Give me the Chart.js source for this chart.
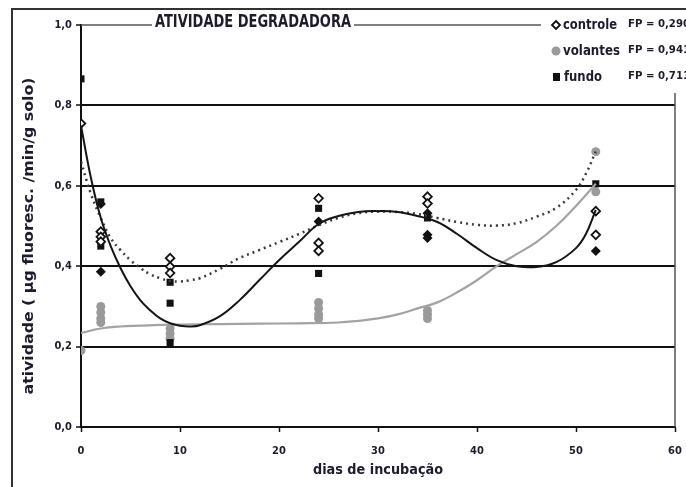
<!DOCTYPE html>
<html>
<head>
<meta charset="utf-8">
<script src="https://cdn.jsdelivr.net/npm/chart.js@4"></script>
<style>
  html, body { margin: 0; padding: 0; background: #fff; }
  #wrap { width: 686px; height: 487px; }
</style>
</head>
<body>
<div id="wrap"><canvas id="chart" width="686" height="487"></canvas></div>
<script>
var FONT = '"Liberation Sans Narrow", "DejaVu Sans Condensed", "Arial Narrow", Arial, sans-serif';
var INK = "#1c1c2e";

// controle (open diamonds)
var controleDays = [0, 2, 2, 2, 9, 9, 9, 24, 24, 24, 35, 35, 52, 52];
var controleVals = [0.755, 0.486, 0.473, 0.461, 0.42, 0.399, 0.383, 0.569, 0.458, 0.438, 0.573, 0.556, 0.537, 0.478];

// volantes (grey circles)
var volantesDays = [0, 2, 2, 2, 2, 9, 9, 9, 24, 24, 24, 24, 35, 35, 35, 52, 52];
var volantesVals = [0.19, 0.30, 0.285, 0.27, 0.26, 0.245, 0.232, 0.22, 0.31, 0.295, 0.28, 0.27, 0.29, 0.28, 0.27, 0.685, 0.585];

// fundo (black squares)
var fundoDays = [0, 2, 2, 9, 9, 9, 24, 24, 35, 52];
var fundoVals = [0.866, 0.56, 0.45, 0.36, 0.308, 0.21, 0.544, 0.382, 0.52, 0.605];

// filled black markers without a legend entry
var extraDays = [2, 2, 24, 35, 35, 35, 52];
var extraVals = [0.555, 0.386, 0.511, 0.532, 0.478, 0.47, 0.438];

// fitted curves
var solidDays = [0, 1, 2, 3, 4, 5, 6, 7, 8, 9, 10, 11, 12, 14, 16, 18, 20, 22, 24, 26, 28, 30, 32, 34, 36, 38, 40, 42, 44, 46, 48, 50, 51, 52];
var solidVals = [0.75, 0.62, 0.52, 0.45, 0.395, 0.35, 0.315, 0.29, 0.27, 0.258, 0.252, 0.25, 0.253, 0.275, 0.315, 0.365, 0.415, 0.46, 0.505, 0.525, 0.535, 0.537, 0.535, 0.525, 0.51, 0.48, 0.445, 0.415, 0.40, 0.398, 0.41, 0.445, 0.48, 0.54];

var dottedDays = [0, 1, 2, 3, 4, 5, 6, 7, 8, 9, 10, 11, 12, 14, 16, 18, 20, 22, 24, 26, 28, 30, 32, 34, 36, 38, 40, 42, 44, 46, 48, 50, 51, 52];
var dottedVals = [0.66, 0.58, 0.52, 0.47, 0.44, 0.415, 0.395, 0.38, 0.37, 0.363, 0.362, 0.365, 0.37, 0.393, 0.42, 0.44, 0.46, 0.48, 0.502, 0.52, 0.532, 0.536, 0.535, 0.53, 0.52, 0.51, 0.503, 0.501, 0.507, 0.523, 0.545, 0.59, 0.63, 0.685];

var greyDays = [0, 2, 4, 6, 8, 10, 14, 18, 22, 26, 28, 30, 32, 34, 36, 38, 40, 42, 44, 46, 48, 50, 52];
var greyVals = [0.234, 0.245, 0.25, 0.252, 0.254, 0.255, 0.256, 0.257, 0.258, 0.26, 0.264, 0.27, 0.28, 0.295, 0.31, 0.335, 0.365, 0.40, 0.43, 0.46, 0.50, 0.55, 0.605];

var legendItems = [
  { label: "controle", fp: "FP = 0,290" },
  { label: "volantes", fp: "FP = 0,941" },
  { label: "fundo", fp: "FP = 0,711" },
];
var chartTitle = "ATIVIDADE DEGRADADORA";
var xTitle = "dias de incubação";
var yTitle = "atividade ( µg fluoresc. /min/g solo)";

function pairs(xs, ys) {
  return xs.map(function (x, i) {
    return { x: x, y: ys[i] };
  });
}

function curve(label, xs, ys, color, width, dash) {
  return {
    label: label,
    data: pairs(xs, ys),
    showLine: true,
    borderColor: color,
    borderWidth: width,
    borderDash: dash || [],
    pointRadius: 0,
    tension: 0.4,
    fill: false,
  };
}

function fitText(ctx, text, x, y, width, size, align) {
  ctx.font = "bold " + size + "px " + FONT;
  var k = width / ctx.measureText(text).width;
  ctx.save();
  ctx.translate(x, y);
  ctx.scale(k, 1);
  ctx.textAlign = align || "left";
  ctx.textBaseline = "middle";
  ctx.fillText(text, 0, 0);
  ctx.restore();
}

var decor = {
  id: "decor",
  afterDraw: function (chart) {
    var ctx = chart.ctx;
    var a = chart.chartArea;
    ctx.save();

    // outer frame (left and top)
    ctx.strokeStyle = "#333";
    ctx.lineWidth = 2;
    ctx.beginPath();
    ctx.moveTo(12, 487);
    ctx.lineTo(12, 9);
    ctx.lineTo(686, 9);
    ctx.stroke();

    // top border, broken by the title, and right border below the legend
    ctx.strokeStyle = "#555";
    ctx.lineWidth = 1.5;
    ctx.beginPath();
    ctx.moveTo(a.left, a.top);
    ctx.lineTo(152, a.top);
    ctx.moveTo(354, a.top);
    ctx.lineTo(541, a.top);
    ctx.moveTo(a.right, 93);
    ctx.lineTo(a.right, a.bottom);
    ctx.stroke();

    ctx.fillStyle = INK;
    fitText(ctx, chartTitle, 155, 23, 196, 17);

    // legend
    var rows = [25, 51, 77];
    ctx.lineWidth = 1.8;
    ctx.strokeStyle = "#111";
    ctx.fillStyle = "#fff";
    ctx.beginPath();
    ctx.moveTo(556, rows[0] - 4);
    ctx.lineTo(560, rows[0]);
    ctx.lineTo(556, rows[0] + 4);
    ctx.lineTo(552, rows[0]);
    ctx.closePath();
    ctx.fill();
    ctx.stroke();
    ctx.fillStyle = "#9a9a9a";
    ctx.beginPath();
    ctx.arc(556, rows[1], 4.5, 0, Math.PI * 2);
    ctx.fill();
    ctx.fillStyle = "#111";
    ctx.fillRect(553, rows[2] - 4, 7, 8);

    ctx.fillStyle = INK;
    fitText(ctx, legendItems[0].label, 563, rows[0], 54, 14);
    fitText(ctx, legendItems[1].label, 563, rows[1], 57, 14);
    fitText(ctx, legendItems[2].label, 564, rows[2], 38, 14);
    legendItems.forEach(function (item, i) {
      fitText(ctx, item.fp, 628, rows[i] - 1, 62, 11);
    });

    // axis titles
    fitText(ctx, xTitle, 378, 470, 130, 14, "center");
    ctx.save();
    ctx.translate(29, 236);
    ctx.rotate(-Math.PI / 2);
    fitText(ctx, yTitle, 0, 0, 317, 14, "center");
    ctx.restore();

    ctx.restore();
  },
};

var tickFont = { family: FONT, size: 11, weight: "bold" };

new Chart(document.getElementById("chart").getContext("2d"), {
  type: "scatter",
  data: {
    datasets: [
      curve("ajuste fundo", solidDays, solidVals, "#151515", 2),
      curve("ajuste controle", dottedDays, dottedVals, "#3a3a3a", 2.5, [2, 4]),
      curve("ajuste volantes", greyDays, greyVals, "#a3a3a3", 2.2),
      {
        label: "controle",
        data: pairs(controleDays, controleVals),
        pointStyle: "rectRot",
        pointRadius: 4.3,
        pointBorderWidth: 1.8,
        pointBorderColor: "#111",
        pointBackgroundColor: "#fff",
      },
      {
        label: "fundo",
        data: pairs(fundoDays, fundoVals),
        pointStyle: "rect",
        pointRadius: 5,
        pointBorderWidth: 0,
        pointBackgroundColor: "#111",
      },
      {
        label: "outros",
        data: pairs(extraDays, extraVals),
        pointStyle: "rectRot",
        pointRadius: 5,
        pointBorderWidth: 0,
        pointBackgroundColor: "#111",
      },
      {
        label: "volantes",
        data: pairs(volantesDays, volantesVals),
        pointStyle: "circle",
        pointRadius: 4.5,
        pointBorderWidth: 0,
        pointBackgroundColor: "#9a9a9a",
      },
    ],
  },
  options: {
    responsive: false,
    animation: false,
    devicePixelRatio: 1,
    layout: { padding: { top: 25, right: 11, left: 0, bottom: 0 } },
    plugins: {
      legend: { display: false },
      tooltip: { enabled: false },
    },
    scales: {
      x: {
        type: "linear",
        min: 0,
        max: 60,
        afterFit: function (s) {
          s.height = 60;
          s.paddingLeft = 0;
          s.paddingRight = 0;
        },
        border: { color: "#111", width: 2 },
        grid: { drawOnChartArea: false, tickLength: 5, tickColor: "#111", tickWidth: 1.5 },
        ticks: { stepSize: 10, color: INK, font: tickFont, padding: 13, maxRotation: 0 },
      },
      y: {
        type: "linear",
        min: 0,
        max: 1,
        afterFit: function (s) {
          s.width = 81;
          s.paddingTop = 0;
          s.paddingBottom = 0;
        },
        border: { color: "#111", width: 2 },
        grid: {
          color: function (c) {
            var v = c.tick ? c.tick.value : 0;
            return v > 0.01 && v < 0.99 ? "#111" : "rgba(0,0,0,0)";
          },
          lineWidth: 2,
          tickLength: 5,
          tickColor: "#111",
          tickWidth: 1.5,
        },
        ticks: {
          stepSize: 0.2,
          color: INK,
          font: tickFont,
          padding: 4,
          callback: function (v) { return v.toFixed(1).replace(".", ","); },
        },
      },
    },
  },
  plugins: [decor],
});
</script>
</body>
</html>
